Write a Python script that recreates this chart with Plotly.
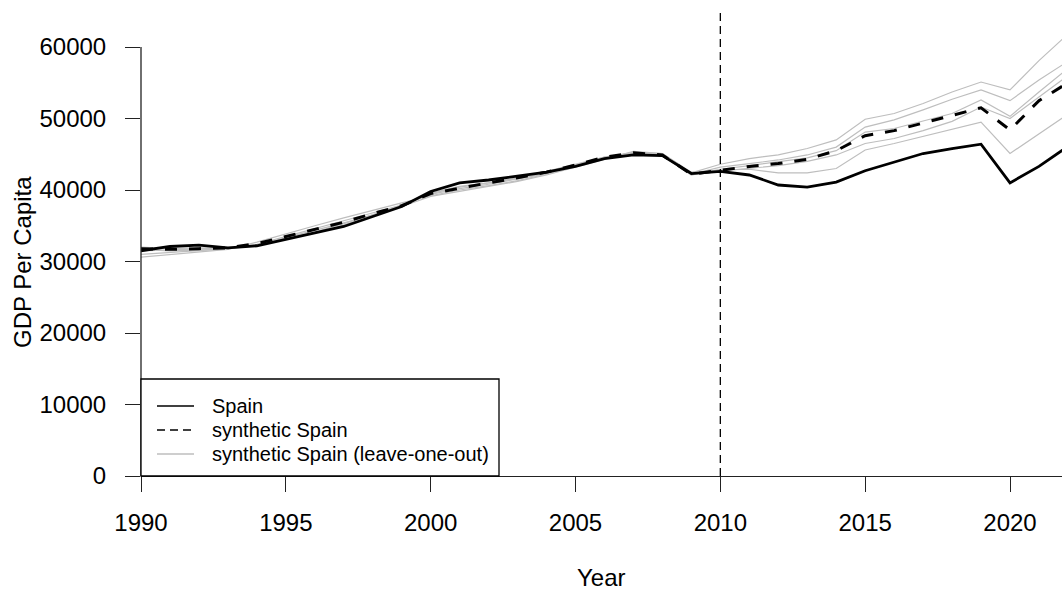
import plotly.graph_objects as go

years = list(range(1990, 2023))

spain = [31500, 32100, 32300, 31900, 32200, 33100, 33900, 34900, 36300, 37700,
         39800, 41000, 41400, 41900, 42500, 43300, 44400, 44900, 44800, 42300,
         42600, 42100, 40700, 40400, 41100, 42700, 43900, 45100, 45800, 46400,
         41000, 43300, 46100]

synthetic = [31800, 31700, 31800, 31900, 32500, 33500, 34400, 35500, 36700, 37800,
             39500, 40300, 41000, 41700, 42500, 43500, 44600, 45200, 44900, 42200,
             42800, 43300, 43700, 44300, 45500, 47600, 48300, 49400, 50400, 51500,
             48400, 52500, 55000]

loo_1 = [30600, 31000, 31300, 31700, 32700, 33900, 35000, 36100, 37200, 38200,
         39200, 40000, 40600, 41300, 42200, 43300, 44400, 45300, 45100, 42400,
         43600, 44400, 44900, 45800, 47000, 49900, 50700, 52100, 53700, 55100,
         54000, 58100, 61800]
loo_2 = [31000, 31300, 31600, 31800, 32400, 33500, 34500, 35600, 36800, 37900,
         39400, 40200, 40800, 41500, 42300, 43400, 44600, 45200, 44900, 42200,
         43200, 43700, 44200, 44900, 46000, 48800, 49800, 51200, 52700, 54000,
         52500, 55400, 58000]
loo_3 = [31500, 31600, 31800, 31900, 32300, 33200, 34000, 35100, 36500, 37800,
         39600, 40500, 41000, 41600, 42400, 43400, 44400, 45000, 44800, 42100,
         42900, 43400, 43900, 44500, 45500, 48100, 48600, 49600, 50700, 52600,
         50300, 53700, 57000]
loo_4 = [32000, 31800, 31900, 31800, 32200, 33100, 34100, 35300, 36600, 37800,
         39500, 40400, 41000, 41700, 42600, 43600, 44600, 45200, 44900, 42300,
         42700, 43000, 43400, 44000, 44900, 46500, 47200, 48300, 49600, 51600,
         50000, 53000, 56000]
loo_5 = [31700, 31500, 31600, 31800, 32300, 33300, 34300, 35400, 36500, 37700,
         39100, 39800, 40400, 41200, 42100, 43200, 44300, 45400, 45100, 42500,
         42800, 42900, 42400, 42400, 43000, 45600, 46500, 47500, 48600, 49500,
         45100, 47900, 50600]
loo_series = [loo_1, loo_2, loo_3, loo_4, loo_5]

treatment_year = 2010
x_ticks = [1990, 1995, 2000, 2005, 2010, 2015, 2020]
y_ticks = [0, 10000, 20000, 30000, 40000, 50000, 60000]
legend_labels = ["Spain", "synthetic Spain", "synthetic Spain (leave-one-out)"]

FONT = "Liberation Sans, Arial, Helvetica, sans-serif"
W, H = 1062, 591
ML, MR, MT, MB = 141, 0, 10, 115
plot_w = W - ML - MR
plot_h = H - MT - MB
px_per_year = (1010 - 141) / 30.0
x_max = 1990 + plot_w / px_per_year
y_max = 60000 * plot_h / (476 - 47)

fig = go.Figure()

for s in loo_series:
    fig.add_trace(go.Scatter(x=years, y=s, mode="lines",
                             line=dict(color="#bebebe", width=1.2),
                             showlegend=False, hoverinfo="skip"))

fig.add_trace(go.Scatter(x=years, y=synthetic, mode="lines",
                         line=dict(color="black", width=3, dash="12px,12px"),
                         showlegend=False, name=legend_labels[1]))
fig.add_trace(go.Scatter(x=years, y=spain, mode="lines",
                         line=dict(color="black", width=2.8),
                         showlegend=False, name=legend_labels[0]))

shapes = []
shapes.append(dict(type="line", xref="x", yref="paper", x0=treatment_year, x1=treatment_year,
                   y0=0, y1=1, line=dict(color="black", width=1.3, dash="8px,5px")))
shapes.append(dict(type="line", xref="paper", yref="y", x0=0, x1=0, y0=0, y1=60000,
                   line=dict(color="#222222", width=1.3)))


def px2x(p):
    return (p - ML) / plot_w


def py2y(p):
    return (H - MB - p) / plot_h


shapes.append(dict(type="rect", xref="paper", yref="paper",
                   x0=px2x(141), x1=px2x(499), y0=py2y(476), y1=py2y(379),
                   line=dict(color="black", width=1.3), fillcolor="white", layer="above"))
row_y = [406, 430, 454]
styles = [dict(color="black", width=1.5),
          dict(color="black", width=1.5, dash="8px,5px"),
          dict(color="#bebebe", width=1.5)]
annotations = []
for lbl, ry, st in zip(legend_labels, row_y, styles):
    shapes.append(dict(type="line", xref="paper", yref="paper",
                       x0=px2x(157), x1=px2x(194), y0=py2y(ry), y1=py2y(ry),
                       line=st, layer="above"))
    annotations.append(dict(text=lbl, xref="paper", yref="paper", x=px2x(210), y=py2y(ry),
                            xanchor="left", yanchor="middle", showarrow=False,
                            font=dict(family=FONT, size=20, color="black")))

annotations.append(dict(text="Year", xref="paper", yref="paper",
                        x=0.5, y=py2y(577), xanchor="center", yanchor="middle",
                        showarrow=False, font=dict(family=FONT, size=24, color="black")))
annotations.append(dict(text="GDP Per Capita", xref="paper", yref="paper",
                        x=px2x(22), y=py2y(262), xanchor="center", yanchor="middle",
                        textangle=-90, showarrow=False,
                        font=dict(family=FONT, size=24, color="black")))

fig.update_layout(
    width=W, height=H,
    margin=dict(l=ML, r=MR, t=MT, b=MB, pad=0),
    paper_bgcolor="white", plot_bgcolor="white",
    showlegend=False,
    shapes=shapes, annotations=annotations,
    font=dict(family=FONT, size=24, color="black"),
    xaxis=dict(range=[1990, x_max], tickmode="array", tickvals=x_ticks,
               ticks="outside", ticklen=15, tickwidth=1.3, tickcolor="#222222",
               showline=True, linecolor="#222222", linewidth=1.3,
               showgrid=False, zeroline=False, ticklabelstandoff=10,
               tickfont=dict(family=FONT, size=24, color="black")),
    yaxis=dict(range=[0, y_max], tickmode="array", tickvals=y_ticks,
               ticktext=[str(v) for v in y_ticks],
               ticks="outside", ticklen=15, tickwidth=1.3, tickcolor="#222222",
               showline=False, showgrid=False, zeroline=False, ticklabelstandoff=14,
               tickfont=dict(family=FONT, size=24, color="black")),
)

fig.write_html("out.html")
